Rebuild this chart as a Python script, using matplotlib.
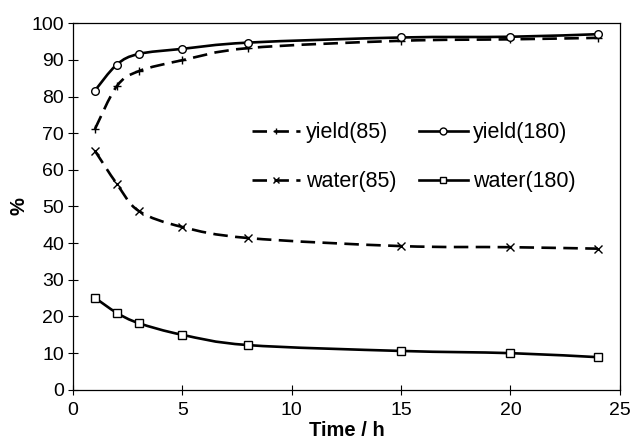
import numpy as np
import matplotlib
matplotlib.use('Agg')
import matplotlib.pyplot as plt
from matplotlib.path import Path
from matplotlib.patches import PathPatch
from matplotlib.lines import Line2D

plt.rcParams['font.family'] = ['Liberation Sans', 'DejaVu Sans']

# time points (h)
time = [1, 2, 3, 5, 8, 15, 20, 24]

# series values (%)
yield_85 = [71.1, 82.8, 86.9, 89.9, 93.2, 95.2, 95.6, 96.0]
yield_180 = [81.6, 88.7, 91.6, 93.0, 94.7, 96.1, 96.3, 97.0]
water_85 = [65.2, 56.2, 48.8, 44.4, 41.4, 39.2, 38.9, 38.5]
water_180 = [25.1, 21.0, 18.2, 15.0, 12.2, 10.6, 10.0, 8.9]

labels = ['yield(85)', 'yield(180)', 'water(85)', 'water(180)']


def smooth_path(x, y):
    # bezier path through the points, like a spreadsheet "smoothed line"
    pts = np.column_stack([x, y]).astype(float)
    n = len(pts)
    verts = [pts[0]]
    codes = [Path.MOVETO]
    for i in range(n - 1):
        p0 = pts[i - 1] if i > 0 else pts[i]
        p1 = pts[i]
        p2 = pts[i + 1]
        p3 = pts[i + 2] if i + 2 < n else pts[i + 1]
        c1 = p1 + (p2 - p0) / 6.0
        c2 = p2 - (p3 - p1) / 6.0
        verts += [c1, c2, p2]
        codes += [Path.CURVE4] * 3
    return Path(verts, codes)


fig = plt.figure(figsize=(6.35, 4.46), dpi=100)
ax = fig.add_axes([0.115, 0.126, 0.861, 0.822])

dash = (0, (5.5, 2.8))
lw = 1.9
series = [
    (yield_85, '+', dash, 'black'),
    (yield_180, 'o', '-', 'white'),
    (water_85, 'x', dash, 'black'),
    (water_180, 's', '-', 'white'),
]

handles = []
for (vals, mk, ls, fc), lab in zip(series, labels):
    patch = PathPatch(smooth_path(time, vals), facecolor='none', edgecolor='black',
                      lw=lw, linestyle=ls, capstyle='butt')
    ax.add_patch(patch)
    ax.plot(time, vals, linestyle='none', marker=mk, markersize=5.5,
            markerfacecolor=fc, markeredgecolor='black', markeredgewidth=1.0, zorder=3)
    handles.append(Line2D([], [], color='black', lw=lw, linestyle=ls, marker=mk,
                          markersize=5, markerfacecolor=fc, markeredgecolor='black',
                          markeredgewidth=1.0))

ax.set_xlim(0, 25)
ax.set_ylim(0, 100)
ax.set_xticks([0, 5, 10, 15, 20, 25])
ax.set_yticks(range(0, 101, 10))
ax.tick_params(direction='inout', length=7, width=0.8, labelsize=14)
ax.tick_params(axis='x', pad=5)
ax.tick_params(axis='y', pad=3)
for s in ax.spines.values():
    s.set_linewidth(0.9)

ax.set_xlabel('Time / h', fontsize=14.5, fontweight='bold', labelpad=2)
ax.set_ylabel('%', fontsize=14.5, fontweight='bold', labelpad=2)

# legend fills column by column, so reorder to get yield row on top
order = [0, 2, 1, 3]
ax.legend([handles[i] for i in order], [labels[i] for i in order], ncol=2,
          frameon=False, fontsize=15.5, loc='upper left',
          bbox_to_anchor=(0.327, 0.730), borderpad=0, borderaxespad=0,
          handlelength=2.25, handletextpad=0.25, columnspacing=1.07,
          labelspacing=1.3)

fig.savefig('out.png', dpi=100)
